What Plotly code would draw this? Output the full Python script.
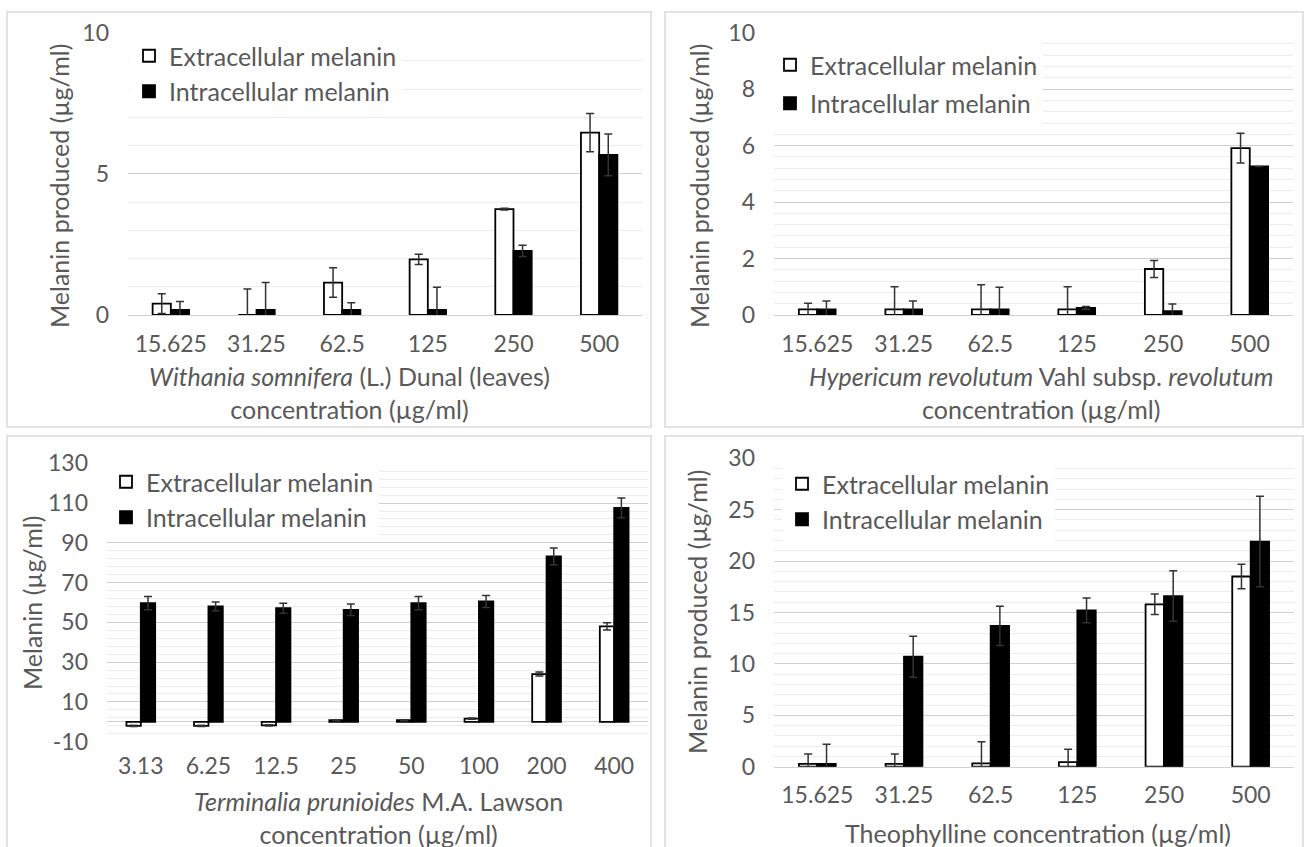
import plotly.graph_objects as go

W, H = 1304, 847
FONT = "Lato"
TXT = "#595959"
GRID_MAJ = "#d0d0d0"
GRID_MIN = "#ececec"

# ---------------- data ----------------
cats_a = ["15.625", "31.25", "62.5", "125", "250", "500"]
cats_t = ["3.13", "6.25", "12.5", "25", "50", "100", "200", "400"]

# Panel 1: Withania somnifera
ws_ext = [0.40, 0.0, 1.15, 1.97, 3.75, 6.46]
ws_ext_err = [0.35, 0.92, 0.52, 0.18, 0.03, 0.68]
ws_int = [0.18, 0.18, 0.18, 0.18, 2.27, 5.67]
ws_int_err = [0.30, 0.97, 0.25, 0.80, 0.20, 0.74]

# Panel 2: Hypericum revolutum
hr_ext = [0.20, 0.20, 0.20, 0.20, 1.63, 5.91]
hr_ext_err = [0.22, 0.80, 0.87, 0.80, 0.30, 0.53]
hr_int = [0.20, 0.20, 0.20, 0.25, 0.14, 5.26]
hr_int_err = [0.30, 0.30, 0.78, 0.05, 0.25, 0.0]

# Panel 3: Terminalia prunioides
tp_ext = [-2.0, -2.0, -1.8, 0.8, 0.8, 1.6, 24.0, 48.0]
tp_ext_err = [0.3, 0.3, 0.3, 0.3, 0.3, 0.3, 1.0, 1.8]
tp_int = [59.7, 58.0, 57.1, 56.3, 59.7, 60.5, 83.2, 107.6]
tp_int_err = [3.3, 2.2, 2.5, 2.9, 3.3, 3.0, 4.2, 5.0]

# Panel 4: Theophylline
th_ext = [0.28, 0.28, 0.32, 0.45, 15.8, 18.5]
th_ext_err = [0.95, 0.95, 2.10, 1.25, 1.00, 1.20]
th_int = [0.28, 10.7, 13.7, 15.2, 16.6, 21.9]
th_int_err = [1.90, 2.00, 1.90, 1.20, 2.45, 4.40]

# y tick values / labels
ticks_p1 = [0, 5, 10]
ticks_p2 = [0, 2, 4, 6, 8, 10]
ticks_p3 = [-10, 10, 30, 50, 70, 90, 110, 130]
ticks_p4 = [0, 5, 10, 15, 20, 25, 30]
ticklabels_p3 = ["-10", "10", "30", "50", "70", "90", "110", "130"]

series_names = ["Extracellular melanin", "Intracellular melanin"]

y_titles = ["Melanin produced (µg/ml)", "Melanin produced (µg/ml)",
            "Melanin (µg/ml)", "Melanin produced (µg/ml)"]
x_titles = ["<i>Withania somnifera</i> (L.) Dunal (leaves)<br>concentration (µg/ml)",
            "<i>Hypericum revolutum</i> Vahl subsp. <i>revolutum</i><br>concentration (µg/ml)",
            "<i>Terminalia prunioides</i> M.A. Lawson<br>concentration (µg/ml)",
            "Theophylline concentration (µg/ml)"]

# ---------------- layout helpers (pixel geometry) ----------------
def fx(px):
    return px / W

def fy(py):
    return 1 - py / H

panels = [
    dict(x=(128, 642), y=(32.7, 315), rng=[0, 10], mdt=1, t0=0,
         tv=ticks_p1, tt=[str(v) for v in ticks_p1],
         cats=cats_a, data=(ws_ext, ws_ext_err, ws_int, ws_int_err)),
    dict(x=(774, 1293), y=(32.7, 315), rng=[0, 10], mdt=0.4, t0=0,
         tv=ticks_p2, tt=[str(v) for v in ticks_p2],
         cats=cats_a, data=(hr_ext, hr_ext_err, hr_int, hr_int_err)),
    dict(x=(107, 648), y=(463.3, 741.7), rng=[-10, 130], mdt=4, t0=-10,
         tv=ticks_p3, tt=ticklabels_p3,
         cats=cats_t, data=(tp_ext, tp_ext_err, tp_int, tp_int_err)),
    dict(x=(774, 1294), y=(458.3, 766.7), rng=[0, 30], mdt=1, t0=0,
         tv=ticks_p4, tt=[str(v) for v in ticks_p4],
         cats=cats_a, data=(th_ext, th_ext_err, th_int, th_int_err)),
]

legend_pos = [(129, 33), (770, 42), (106, 459), (782, 461)]
legend_gap = [0, 3, 0, 0]
ytitle_pos = [(59, 186), (699, 186), (32, 603), (697, 612)]
xtitle_pos = [(349, 392), (1041, 392), (378, 817), (1038, 833)]
borders = [(7, 12, 651, 427), (665, 12, 1303, 427), (7, 436, 651, 860), (665, 436, 1303, 860)]

fig = go.Figure()
layout = dict(
    width=W, height=H, margin=dict(l=0, r=0, t=0, b=0, autoexpand=False),
    paper_bgcolor="white", plot_bgcolor="white",
    barmode="group", bargap=0.575, bargroupgap=0,
    font=dict(family=FONT, color=TXT, size=22),
    shapes=[], annotations=[],
)

for i, p in enumerate(panels):
    n = "" if i == 0 else str(i + 1)
    xa, ya = "x" + n, "y" + n
    leg = "legend" + n
    ext, ext_err, itr, itr_err = p["data"]
    fig.add_trace(go.Bar(
        x=p["cats"], y=ext, name=series_names[0], xaxis=xa, yaxis=ya,
        marker=dict(color="white", line=dict(color="black", width=1.8)),
        error_y=dict(type="data", array=ext_err, visible=True, color="#333333",
                     thickness=1.5, width=4),
        legend=leg, legendgroup="e" + n, legendrank=1,
    ))
    fig.add_trace(go.Bar(
        x=p["cats"], y=itr, name=series_names[1], xaxis=xa, yaxis=ya,
        marker=dict(color="black", line=dict(color="black", width=1.8)),
        error_y=dict(type="data", array=itr_err, visible=True, color="#333333",
                     thickness=1.5, width=4),
        legend=leg, legendgroup="i" + n, legendrank=2,
    ))
    layout["xaxis" + n] = dict(
        domain=[fx(p["x"][0]), fx(p["x"][1])], anchor=ya,
        showgrid=False, showline=(i != 2), linecolor=GRID_MAJ, linewidth=1.2,
        ticks="", ticklabelstandoff=8, tickfont=dict(size=23, color=TXT),
        fixedrange=True, automargin=False,
    )
    layout["yaxis" + n] = dict(
        domain=[fy(p["y"][1]), fy(p["y"][0])], anchor=xa,
        range=p["rng"], tickmode="array", tickvals=p["tv"], ticktext=p["tt"],
        showgrid=True, gridcolor=GRID_MAJ, gridwidth=1.2,
        minor=dict(dtick=p["mdt"], tick0=p["t0"], showgrid=True,
                   gridcolor=GRID_MIN, gridwidth=1),
        zeroline=(i == 2), zerolinecolor=GRID_MAJ, zerolinewidth=1.2,
        showline=False, ticks="", ticklabelstandoff=18,
        tickfont=dict(size=23, color=TXT), fixedrange=True, automargin=False,
    )
    lx, ly = legend_pos[i]
    layout[leg] = dict(
        x=fx(lx), y=fy(ly), xanchor="left", yanchor="top",
        bgcolor="white", borderwidth=0, font=dict(size=25, color=TXT),
        tracegroupgap=legend_gap[i], itemclick=False, itemdoubleclick=False,
        traceorder="grouped",
    )
    tx, ty = ytitle_pos[i]
    layout["annotations"].append(dict(
        text=y_titles[i], x=fx(tx), y=fy(ty), xref="paper", yref="paper",
        showarrow=False, textangle=-90, font=dict(size=25, color=TXT),
        xanchor="center", yanchor="middle",
    ))
    tx, ty = xtitle_pos[i]
    layout["annotations"].append(dict(
        text=x_titles[i], x=fx(tx), y=fy(ty), xref="paper", yref="paper",
        showarrow=False, font=dict(size=25, color=TXT),
        xanchor="center", yanchor="middle", align="center",
    ))
    bx0, by0, bx1, by1 = borders[i]
    layout["shapes"].append(dict(
        type="rect", xref="paper", yref="paper",
        x0=fx(bx0), x1=fx(bx1), y0=fy(by1), y1=fy(by0),
        line=dict(color="#d9d9d9", width=1.5), fillcolor="rgba(0,0,0,0)",
        layer="below",
    ))

fig.update_layout(**layout)
fig.write_html("out.html", config={"displayModeBar": False},
               post_script="document.body.style.margin='0';document.body.style.overflow='hidden';")
